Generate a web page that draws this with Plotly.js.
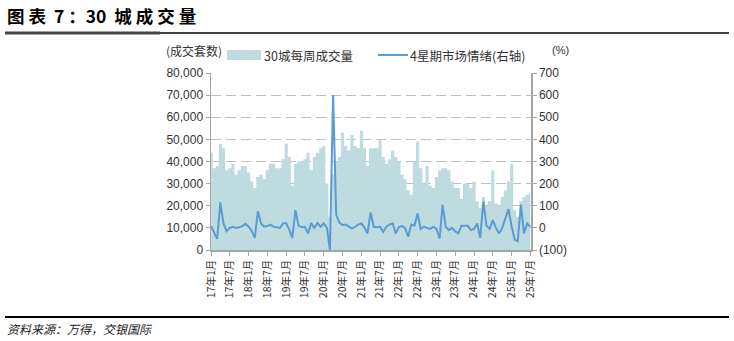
<!DOCTYPE html>
<html><head><meta charset="utf-8">
<script src="https://cdn.plot.ly/plotly-3.0.1.min.js"></script>
<style>html,body{margin:0;padding:0;background:#fff;}#chart{width:734px;height:341px;}</style>
</head><body><div id="chart"></div>
<script>
// Monthly data, Jan 2017 .. Jul 2025
const startYear = 2017;
const volume = [
  44000, 37000, 38000, 48000, 46000, 36000, 37000, 39000, 34000, 36000, 38000, 38000,
  35000, 31000, 28000, 33000, 34000, 32000, 36000, 39000, 39000, 37000, 37000, 41000,
  48000, 42000, 29000, 39000, 40000, 40000, 41000, 44000, 36000, 42000, 44000, 46000,
  47000, 30000, 15000, 34000, 40000, 42000, 53000, 47000, 45000, 52000, 47000, 46000,
  54000, 46000, 38000, 46000, 46000, 46000, 50000, 42000, 39000, 41000, 45000, 42000,
  40000, 34000, 32000, 27000, 25000, 40000, 49000, 37000, 30000, 38000, 29000, 28000,
  33000, 36000, 37000, 37000, 36000, 31000, 28000, 28000, 23000, 30000, 30000, 28000,
  31000, 22000, 19000, 24000, 20000, 22000, 36000, 21000, 20000, 24000, 27000, 31000,
  39000, 18000, 15000, 22000, 24000, 25000, 26000
];
const sentiment = [
  8, -20, -50, 115, 20, -15, 0, 5, 0, 3, 8, 18,
  5, -15, -45, 75, 20, 5, 8, 15, 5, 3, 0, 20,
  22, -10, -45, 80, 10, 3, 5, -25, 22, 0, 22, 5,
  20, 0, -100, 600, 60, 25, 12, 15, 5, -3, 5, 15,
  20, 0, -25, 70, 5, 3, 5, -18, 5, 15, 20, -25,
  5, 8, 0, -40, 15, 10, 65, -5, 5, 0, -5, 5,
  -5, -48, 105, 5, -10, 0, -15, -25, 10, 10, 10, -10,
  -5, 20, -45, 120, 10, -5, 35, 0, -25, 0, 40, 85,
  5, -55, -60, 105, -25, 20, 5
];
const tickDates = ['2017-01-01','2017-07-01','2018-01-01','2018-07-01','2019-01-01','2019-07-01',
  '2020-01-01','2020-07-01','2021-01-01','2021-07-01','2022-01-01','2022-07-01',
  '2023-01-01','2023-07-01','2024-01-01','2024-07-01','2025-01-01','2025-07-01'];
const tickLabels = ['17年1月','17年7月','18年1月','18年7月','19年1月','19年7月',
  '20年1月','20年7月','21年1月','21年7月','22年1月','22年7月',
  '23年1月','23年7月','24年1月','24年7月','25年1月','25年7月'];
const leftTicks = [0,10000,20000,30000,40000,50000,60000,70000,80000];
const rightTickVals = [-100,0,100,200,300,400,500,600,700];
const rightTickText = ['(100)','0','100','200','300','400','500','600','700'];

const months = volume.map((_, i) => {
  const y = startYear + Math.floor(i / 12);
  const m = (i % 12) + 1;
  return y + '-' + String(m).padStart(2, '0') + '-01';
});

const BAR = '#BEDBDF';
const LINE = '#5B9BD5';
const AX = '#A6A6A6';
const L = 211, R = 531, T = 73, B = 250, W = 734, H = 341;
const px = x => (x - L) / (R - L);
const py = y => (B - y) / (B - T);
const cjk = 'Noto Sans CJK SC';
const num = 'Liberation Sans, Arial, sans-serif';

const traces = [
  {type:'scatter', mode:'lines', x: months, y: volume, line:{shape:'hvh', width:0, color: BAR}, fill:'tozeroy', fillcolor: BAR,
    name:'30城每周成交量', yaxis:'y', hoverinfo:'skip'},
  {type:'scatter', mode:'lines', x: months, y: sentiment, line:{color: LINE, width: 2}, name:'4星期市场情绪(右轴)', yaxis:'y2', hoverinfo:'skip'}
];

const layout = {
  width: W, height: H,
  margin: {l: L, r: W - R, t: T, b: H - B},
  paper_bgcolor: '#fff', plot_bgcolor: '#fff',
  showlegend: false,
  xaxis: {type:'date', range:['2016-12-31','2025-07-08'], tickmode:'array', tickvals: tickDates, ticktext: tickLabels,
    tickangle: -90, tickfont:{family: cjk, size: 10.5, color:'#333'}, showline: true, linecolor: AX, linewidth: 1.5,
    ticks:'outside', ticklen: 4, tickcolor: AX, showgrid: false, zeroline: false},
  yaxis: {range:[0,80000], tickmode:'array', tickvals: leftTicks, tickformat:',d', tickfont:{family: num, size: 12, color:'#333'},
    showline: true, linecolor: AX, linewidth: 1.5, ticks:'outside', ticklen: 4, tickcolor: AX,
    showgrid: true, gridcolor:'#BFBFBF', griddash:'10px,5px', gridwidth: 1, zeroline: false},
  yaxis2: {overlaying:'y', side:'right', range:[-100,700], tickmode:'array', tickvals: rightTickVals, ticktext: rightTickText,
    tickfont:{family: num, size: 12, color:'#333'}, showline: true, linecolor: AX, linewidth: 1.5, ticks:'outside', ticklen: 4, tickcolor: AX,
    showgrid: false, zeroline: false},
  shapes: [
    {type:'line', xref:'paper', yref:'paper', x0: px(5), x1: px(729), y0: py(33), y1: py(33), line:{color:'#000', width:1.5}},
    {type:'line', xref:'paper', yref:'paper', x0: px(5), x1: px(160), y0: py(33), y1: py(33), line:{color:'#444', width:3}},
    {type:'line', xref:'paper', yref:'paper', x0: px(5), x1: px(729), y0: py(317), y1: py(317), line:{color:'#000', width:2}},
    {type:'rect', xref:'paper', yref:'paper', x0: px(227), x1: px(261), y0: py(50), y1: py(60), fillcolor: BAR, line:{width:0}},
    {type:'line', xref:'paper', yref:'paper', x0: px(378), x1: px(408), y0: py(55), y1: py(55), line:{color: LINE, width:2}}
  ],
  annotations: [
    {text:'图 表  7 ：30  城 成 交 量', xref:'paper', yref:'paper', x: px(5), y: py(16), xanchor:'left', yanchor:'middle', showarrow:false,
      font:{family: cjk, size: 17.5, color:'#000', weight: 'bold'}},
    {text:'(成交套数)', xref:'paper', yref:'paper', x: px(164), y: py(50), xanchor:'left', yanchor:'middle', showarrow:false,
      font:{family: cjk, size: 12, color:'#333'}},
    {text:'30城每周成交量', xref:'paper', yref:'paper', x: px(262), y: py(55), xanchor:'left', yanchor:'middle', showarrow:false,
      font:{family: cjk, size: 12.5, color:'#333'}},
    {text:'4星期市场情绪(右轴)', xref:'paper', yref:'paper', x: px(408), y: py(55), xanchor:'left', yanchor:'middle', showarrow:false,
      font:{family: cjk, size: 12.5, color:'#333'}},
    {text:'(%)', xref:'paper', yref:'paper', x: px(550), y: py(50), xanchor:'left', yanchor:'middle', showarrow:false,
      font:{family: num, size: 11, color:'#333'}},
    {text:'资料来源：万得，交银国际', xref:'paper', yref:'paper', x: px(5), y: py(328), xanchor:'left', yanchor:'middle', showarrow:false,
      font:{family: cjk, size: 12, color:'#222', style:'italic'}}
  ]
};

Plotly.newPlot('chart', traces, layout, {staticPlot: true, displayModeBar: false});
</script>
</body></html>
